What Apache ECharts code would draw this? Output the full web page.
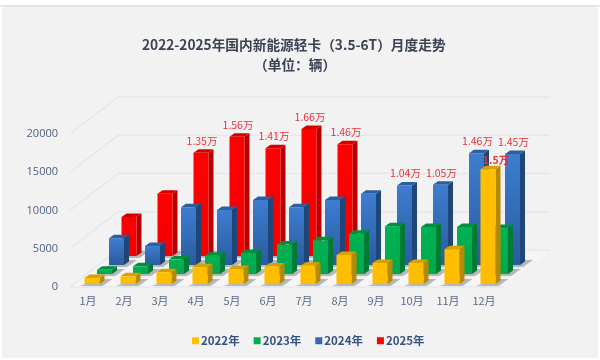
<!DOCTYPE html>
<html>
<head>
<meta charset="utf-8">
<style>html,body{margin:0;padding:0;background:#fff}#c{width:600px;height:360px}</style>
<script src="https://cdn.jsdelivr.net/npm/echarts@6/dist/echarts.min.js"></script>
</head>
<body>
<div id="c"></div>
<script>
const months = ['1月','2月','3月','4月','5月','6月','7月','8月','9月','10月','11月','12月'];
const yTicks = [0, 5000, 10000, 15000, 20000];
const legendNames = ['2022年','2023年','2024年','2025年'];
const v2022 = [800, 1000, 1550, 2200, 1950, 2300, 2400, 3800, 2750, 2750, 4550, 15000];
const v2023 = [550, 1000, 1880, 2400, 2750, 3850, 4400, 5250, 6250, 6150, 6150, 6000];
const v2024 = [3500, 2500, 7550, 7200, 8500, 7550, 8500, 9300, 10400, 10500, 14600, 14500];
const v2025 = [5100, 8150, 13500, 15600, 14100, 16600, 14600];
const l2022 = {11: '1.5万'};
const l2024 = {8: '1.04万', 9: '1.05万', 10: '1.46万', 11: '1.45万'};
const l2025 = {2: '1.35万', 3: '1.56万', 4: '1.41万', 5: '1.66万', 6: '1.46万'};

const FONT = '"Noto Sans CJK SC","Noto Sans",sans-serif';
const LG = echarts.graphic.LinearGradient;

function barSeries(name, values, labels, dx, dy, s) {
  return {
    type: 'custom', name, coordinateSystem: 'cartesian2d', clip: false,
    itemStyle: {color: s.legend},
    data: values.map((v, i) => [i, v]),
    encode: {x: 0, y: 1},
    renderItem(params, api) {
      const i = api.value(0), v = api.value(1);
      const b = api.coord([i, 0]), t = api.coord([i, v]);
      const W = 15, SX = 5, SY = 3.5;
      const x0 = b[0] + dx - W / 2, x1 = x0 + W;
      const yb = b[1] + dy, yt = t[1] + dy;
      const kids = [
        {type: 'polygon', shape: {points: [[x0 - 5, yb + 2], [x1 + 3, yb + 2], [x1 + 13, yb - 5], [x1 + 3, yb - 5]]},
          style: {fill: 'rgba(110,110,110,0.38)', shadowBlur: 2, shadowColor: 'rgba(110,110,110,0.4)'}},
        {type: 'polygon', shape: {points: [[x1, yb], [x1 + SX, yb - SY], [x1 + SX, yt - SY], [x1, yt]]}, style: {fill: s.side}},
        {type: 'polygon', shape: {points: [[x0, yt], [x1, yt], [x1 + SX, yt - SY], [x0 + SX, yt - SY]]}, style: {fill: s.top}},
        {type: 'rect', shape: {x: x0, y: yt, width: W, height: yb - yt},
          style: {fill: new LG(0, 0, 0, 1, [{offset: 0, color: s.hi}, {offset: 1, color: s.lo}])}}
      ];
      if (labels[i]) {
        kids.push({type: 'text', z2: 10, style: {
          x: x0 + W / 2 + 1 + (s.labelDx || 0), y: yt - (s.labelGap || 12), text: labels[i], align: 'center', verticalAlign: 'middle',
          fill: '#ee3038', fontSize: 10.5, fontFamily: FONT, fontWeight: s.labelWeight || 'normal'}});
      }
      return {type: 'group', children: kids};
    }
  };
}

const wall = {
  type: 'custom', coordinateSystem: 'cartesian2d', clip: false, silent: true, z: 1,
  data: yTicks.map(v => [0, v]), encode: {x: 0, y: 1},
  renderItem(params, api) {
    const v = api.value(1), band = api.size([1, 0])[0];
    const p = api.coord([0, v]), q = api.coord([11, v]);
    const xl = p[0] - band / 2, xr = q[0] + band / 2, y = p[1];
    const DX = 48, DY = -37;
    const kids = [
      {type: 'line', shape: {x1: xl, y1: y, x2: xl + DX, y2: y + DY}, style: {stroke: '#e3e7f2', lineWidth: 1.5}},
      {type: 'line', shape: {x1: xl + DX, y1: y + DY, x2: xr + DX, y2: y + DY}, style: {stroke: '#e3e7f3', lineWidth: 1.5}}
    ];
    if (v === 0) {
      kids.unshift({type: 'polygon', shape: {points: [[xl, y], [xr, y], [xr + DX, y + DY], [xl + DX, y + DY]]}, style: {fill: '#f5f5f6'}});
      kids.push({type: 'line', shape: {x1: xl, y1: y, x2: xr, y2: y}, style: {stroke: '#e6e8ee', lineWidth: 1.5}});
    }
    return {type: 'group', children: kids};
  }
};

const titleStyle = {fontFamily: FONT, fontSize: 13.7, fontWeight: 'bold', color: '#3a4253'};
const chart = echarts.init(document.getElementById('c'), null, {renderer: 'canvas'});
chart.setOption({
  animation: false,
  backgroundColor: '#ffffff',
  graphic: [
    {type: 'rect', z: -10, shape: {x: 2, y: 5, width: 596, height: 353}, style: {fill: '#f2f2f3'}},
    {type: 'rect', z: -9, shape: {x: 0, y: 5, width: 600, height: 1.5}, style: {fill: '#e2e2e2'}}
  ],
  title: [
    {text: '2022-2025年国内新能源轻卡（3.5-6T）月度走势', left: 137, top: 33, textStyle: titleStyle},
    {text: '（单位：辆）', left: 249, top: 53, textStyle: titleStyle}
  ],
  legend: {
    data: legendNames, left: 187, top: 330, icon: 'rect', itemWidth: 7, itemHeight: 7, itemGap: 14,
    textStyle: {fontFamily: FONT, fontSize: 11.5, fontWeight: 'bold', color: '#36527f', padding: [0, 0, 0, -3]}
  },
  grid: {left: 70, right: 98, top: 134, bottom: 73},
  xAxis: {
    type: 'category', data: months, boundaryGap: true,
    axisLine: {show: false}, axisTick: {show: false}, splitLine: {show: false},
    axisLabel: {color: '#5a6b8a', fontSize: 11, fontFamily: FONT, margin: 8}
  },
  yAxis: {
    type: 'value', min: 0, max: 20000, interval: 5000,
    axisLine: {show: false}, axisTick: {show: false}, splitLine: {show: false},
    axisLabel: {color: '#4d6185', fontSize: 11, fontFamily: '"Open Sans",sans-serif', margin: 12, formatter: v => String(v)}
  },
  series: [
    wall,
    barSeries('2025年', v2025, l2025, 41, -31, {legend: '#ff0000', hi: '#ff0000', lo: '#f40000', side: '#b80000', top: '#d40000'}),
    barSeries('2024年', v2024, l2024, 28.5, -22, {legend: '#2f69b3', hi: '#3d7dd0', lo: '#2a5b9e', side: '#1f4678', top: '#2d5f9f'}),
    barSeries('2023年', v2023, {}, 16.5, -13, {legend: '#00b050', hi: '#00b352', lo: '#00a84c', side: '#007a37', top: '#009040'}),
    barSeries('2022年', v2022, l2022, 4, -3, {legend: '#ffc000', hi: '#ffc000', lo: '#ffbc00', side: '#b58a00', top: '#d7a200', labelDx: 7, labelGap: 9, labelWeight: 'bold'})
  ]
});
</script>
</body>
</html>
